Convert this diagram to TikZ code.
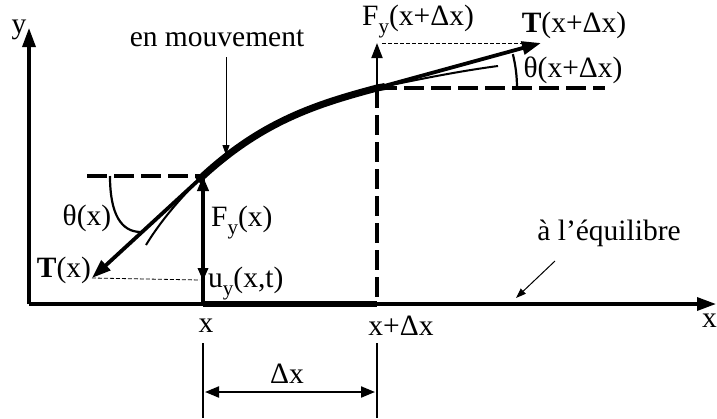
\documentclass[tikz,border=0pt]{standalone}
\usepackage{fontspec}
\setmainfont{Liberation Serif}
\usetikzlibrary{arrows.meta}
\newcommand{\sby}{\raisebox{-0.28em}{\fontsize{21}{21}\selectfont y}}
\begin{document}
\begin{tikzpicture}[x=1pt,y=-1pt,
  lbl/.style={inner sep=0pt,font=\fontsize{29.5}{32}\selectfont},
  axis/.style={line width=3.3pt},
  bigtip/.style={-{Triangle[length=19pt,width=13pt]}},
  midtip/.style={-{Triangle[length=15pt,width=11pt]}},
  thickdash/.style={line width=3.8pt,dash pattern=on 20pt off 7pt},
  thindash/.style={line width=0.8pt,dash pattern=on 4pt off 2pt}]
\useasboundingbox (0,0) rectangle (717,418);
% coordinates
\coordinate (O) at (29,304);
\coordinate (ytip) at (29,28);
\coordinate (xtip) at (716,304);
\coordinate (A) at (203,176);
\coordinate (B) at (377,88);
\coordinate (A0) at (203,304);
\coordinate (B0) at (377,304);
% axes
\draw[axis,bigtip] (O) -- (ytip);
\draw[axis,bigtip] (O) -- (xtip);
\draw[line width=6pt] (A0) -- (B0);
% string
\draw[line width=7pt] (198,181) -- (A) .. controls (263,121) and (317,104) .. (B) -- (385,86.5);
\draw[line width=2pt] (A) .. controls (180,198) and (160,222) .. (146,245);
\draw[line width=2pt] (B) .. controls (420,79) and (460,71) .. (498,66);
% dashed references
\draw[thickdash] (87,176) -- (A);
\draw[thickdash] (B) -- (605,88);
\draw[thickdash] (B) -- (B0);
% tensions
\coordinate (Ttip) at (92,278);
\coordinate (TBtip) at (541,43);
\draw[line width=3.8pt,bigtip] (A) -- (Ttip);
\draw[line width=3.8pt,bigtip] (B) -- (TBtip);
% vertical components
\draw[line width=3.8pt,midtip] (A0) -- (A);
\draw[line width=3.8pt,-{Triangle[length=13pt,width=10pt]}] (A) -- (203,281);
\draw[line width=1.8pt,midtip] (B) -- (377,43);
\draw[thindash] (Ttip) -- (200,280);
\draw[thindash] (382,43) -- (527,43);
% angle arcs
\draw[line width=2.2pt] (110,176) .. controls (110,214) and (121,232) .. (141,232);
\draw[line width=2.2pt] (517,88) arc[start angle=0,end angle=-14,radius=140];
% dimension
\draw[line width=2pt] (203,343) -- (203,418);
\draw[line width=2pt] (377,343) -- (377,418);
\draw[line width=2pt,{Triangle[length=14pt,width=11pt]}-{Triangle[length=14pt,width=11pt]}] (205,392) -- (375,392);
% labels
\node[lbl] (ylab) at (19,30) {y};
\node[lbl,anchor=east] (xlab) at (717,321) {x};
\node[lbl] (mv) at (217,38) {en mouvement};
\node[lbl] (eq) at (609,233) {à l’équilibre};
\node[lbl] (th) at (87,218) {θ(x)};
\node[lbl] (T) at (64,270) {\textbf{T}(x)};
\node[lbl,anchor=base west] (Fy) at (211,226) {F\sby(x)};
\node[lbl,anchor=base west] (uy) at (208,287) {u\sby(x,t)};
\node[lbl] (xa) at (206,326) {x};
\node[lbl] (xb) at (401,326) {x+Δx};
\node[lbl] (dx) at (287,374) {Δx};
\node[lbl,anchor=base] (FyB) at (418,25) {F\sby(x+Δx)};
\node[lbl] (TB) at (574,25) {\textbf{T}(x+Δx)};
\node[lbl] (thB) at (573,70) {θ(x+Δx)};
% pointer arrows
\draw[line width=1pt,-{Triangle[length=10pt,width=7pt]}] (226,57) -- (226,155);
\draw[line width=1pt,-{Triangle[length=10pt,width=7pt]}] (555,261) -- (516,298);
\end{tikzpicture}
\end{document}
